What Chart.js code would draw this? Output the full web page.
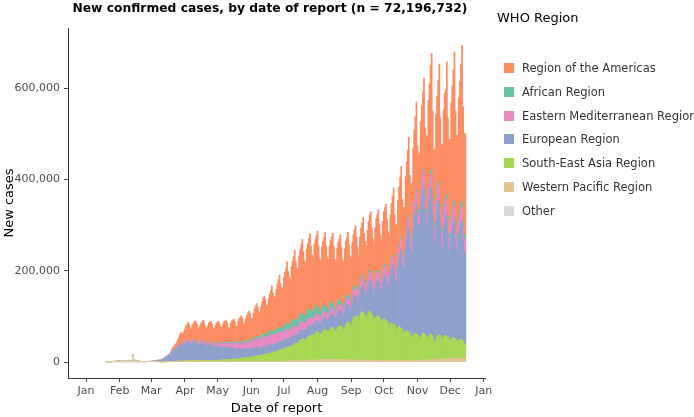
<!DOCTYPE html>
<html>
<head>
<meta charset="utf-8">
<script src="https://cdn.jsdelivr.net/npm/chart.js@4.4.1/dist/chart.umd.min.js"></script>
<style>
  html, body { margin: 0; padding: 0; background: #fff; overflow: hidden; }
  #wrap { position: relative; width: 694px; height: 417px; font-family: "DejaVu Sans", sans-serif; }
  #chartBox { position: absolute; left: 0; top: 0; width: 694px; height: 417px; }
  #title { position: absolute; left: 61px; width: 418px; top: 0px; line-height: 16px; text-align: center;
           font-weight: bold; font-size: 12.3px; color: #000; white-space: nowrap; }
  #legendTitle { position: absolute; left: 497px; top: 9px; line-height: 18px; font-size: 13px; color: #000; white-space: nowrap; }
  .item { position: absolute; left: 504px; height: 24px; display: flex; align-items: center; white-space: nowrap; }
  .item .sw { width: 10px; height: 10px; margin-right: 8px; }
  .item span { font-size: 11.5px; color: #333; }
</style>
</head>
<body>
<div id="wrap">
  <div id="chartBox"><canvas id="myChart"></canvas></div>
  <div id="title"></div>
  <div id="legendTitle">WHO Region</div>
  <div id="legend"></div>
</div>
<script>
// daily new cases in thousands, one row per week (Mon..Sun), first day 2020-01-20
const firstDay = "2020-01-20";

const westernPacific = [
  0.1, 0.15, 0.13, 0.26, 0.44, 0.69, 0.77,
  1.77, 1.46, 1.74, 1.98, 2.1, 2.59, 2.83,
  3.24, 3.89, 3.7, 3.15, 3.4, 2.66, 3.0,
  2.48, 2.03, 1.82, 15.15, 5.09, 2.64, 2.01,
  2.05, 1.89, 1.75, 0.83, 0.9, 0.85, 0.66,
  0.5, 0.75, 0.6, 0.75, 0.9, 1.1, 0.9,
  1.1, 0.8, 0.7, 0.6, 0.7, 0.6, 0.5,
  0.4, 0.4, 0.3, 0.3, 0.4, 0.4, 0.5,
  0.5, 0.6, 0.6, 0.8, 1.0, 1.2, 1.3,
  1.4, 1.5, 1.6, 1.8, 1.9, 2.0, 1.9,
  1.7, 1.8, 2.0, 2.1, 2.2, 2.3, 2.2,
  2.0, 2.1, 2.3, 2.4, 2.5, 2.3, 2.1,
  1.9, 1.8, 2.0, 2.1, 2.2, 1.9, 1.7,
  1.5, 1.4, 1.3, 1.4, 1.3, 1.2, 1.1,
  0.9, 0.9, 1.0, 0.9, 0.9, 0.8, 0.8,
  0.7, 0.7, 0.8, 0.7, 0.8, 0.7, 0.6,
  0.6, 0.6, 0.7, 0.6, 0.7, 0.7, 0.6,
  0.6, 0.6, 0.7, 0.7, 0.8, 0.8, 0.7,
  0.7, 0.7, 0.8, 0.8, 0.9, 1.0, 0.9,
  0.9, 0.9, 1.0, 1.0, 1.1, 1.1, 1.0,
  0.9, 1.0, 1.1, 1.1, 1.2, 1.2, 1.1,
  1.1, 1.1, 1.2, 1.3, 1.3, 1.4, 1.3,
  1.2, 1.3, 1.4, 1.5, 1.6, 1.7, 1.6,
  1.6, 1.7, 1.8, 1.9, 2.0, 2.2, 2.1,
  2.0, 2.1, 2.3, 2.5, 2.6, 2.7, 2.6,
  2.5, 2.6, 2.8, 3.0, 3.2, 3.4, 3.3,
  3.1, 3.3, 3.5, 3.8, 4.0, 4.1, 3.9,
  3.8, 4.0, 4.3, 4.6, 4.8, 5.0, 4.9,
  5.1, 5.3, 5.5, 5.8, 6.0, 6.2, 5.9,
  5.6, 5.7, 6.0, 6.1, 6.3, 6.5, 6.1,
  5.8, 5.5, 5.6, 5.7, 5.6, 5.8, 5.4,
  5.0, 4.8, 4.9, 5.0, 4.9, 5.1, 4.7,
  4.3, 4.2, 4.4, 4.5, 4.6, 4.5, 4.2,
  4.0, 3.9, 4.0, 4.2, 4.3, 4.4, 4.1,
  3.9, 3.8, 3.9, 4.0, 4.1, 4.0, 3.7,
  3.4, 3.3, 3.5, 3.6, 3.7, 3.6, 3.4,
  3.2, 3.1, 3.2, 3.3, 3.4, 3.3, 3.1,
  2.9, 2.8, 3.0, 3.1, 3.2, 3.1, 2.9,
  2.8, 2.7, 2.9, 3.0, 3.1, 3.1, 2.9,
  2.7, 2.7, 2.8, 3.0, 3.1, 3.2, 3.0,
  2.9, 2.9, 3.1, 3.3, 3.5, 3.6, 3.4,
  3.3, 3.3, 3.6, 3.9, 4.1, 4.4, 4.2,
  4.0, 4.2, 4.6, 5.0, 5.4, 5.6, 5.4,
  5.2, 5.3, 5.8, 6.2, 6.5, 6.8, 6.6,
  6.2, 6.1, 6.4, 6.8, 7.0, 7.2, 7.0,
  6.5, 6.4, 6.9, 7.3, 7.6, 7.8, 7.5,
  7.1, 7.0, 7.5, 7.9, 8.3, 8.5, 8.2,
  7.8, 7.6
];

const southEastAsia = [
  0, 0, 0, 0, 0, 0, 0,
  0, 0, 0, 0, 0, 0, 0,
  0, 0, 0, 0, 0, 0, 0,
  0, 0, 0, 0, 0, 0, 0,
  0, 0, 0, 0, 0, 0, 0,
  0, 0, 0, 0, 0, 0, 0,
  0, 0, 0, 0, 0, 0, 0,
  0, 0, 0, 0, 0, 0.1, 0.1,
  0.1, 0.1, 0.1, 0.1, 0.2, 0.2, 0.3,
  0.3, 0.3, 0.4, 0.4, 0.5, 0.6, 0.7,
  0.8, 1.0, 1.1, 0.9, 1.0, 1.1, 1.2,
  1.2, 1.2, 1.3, 1.4, 1.5, 1.6, 1.6,
  1.5, 1.6, 1.7, 1.8, 1.9, 2.0, 2.1,
  2.0, 2.1, 2.2, 2.3, 2.4, 2.5, 2.6,
  2.4, 2.6, 2.8, 2.9, 3.0, 3.3, 3.7,
  3.9, 4.0, 4.2, 4.4, 4.5, 4.6, 4.8,
  5.0, 5.1, 5.2, 5.3, 5.6, 5.8, 6.1,
  6.2, 6.4, 6.6, 7.2, 7.5, 7.7, 7.9,
  8.0, 8.1, 8.3, 8.7, 9.2, 9.5, 10.0,
  10.2, 10.5, 11.0, 11.5, 12.0, 12.4, 12.8,
  13.2, 13.5, 13.9, 14.3, 14.8, 15.4, 15.9,
  16.2, 16.5, 17.5, 18.0, 18.5, 19.3, 20.2,
  20.5, 20.8, 21.5, 22.6, 23.5, 24.2, 25.4,
  25.7, 25.6, 26.8, 28.1, 29.0, 30.8, 31.9,
  31.5, 30.8, 32.5, 34.4, 35.6, 37.8, 38.2,
  38.1, 38.5, 41.6, 44.5, 46.3, 47.1, 47.5,
  46.2, 45.3, 47.4, 50.5, 52.8, 53.1, 54.3,
  55.7, 53.9, 55.5, 58.8, 60.2, 61.9, 60.5,
  56.1, 55.2, 58.5, 62.2, 64.0, 65.1, 64.3,
  62.5, 59.8, 63.3, 68.2, 69.5, 68.8, 67.1,
  63.3, 61.2, 66.4, 71.5, 72.1, 73.2, 72.5,
  69.8, 66.2, 70.6, 78.3, 80.6, 81.9, 82.5,
  78.5, 76.2, 85.1, 91.3, 94.6, 94.2, 98.1,
  96.5, 83.1, 97.2, 103.5, 105.2, 106.1, 101.3,
  99.5, 91.6, 99.1, 105.3, 108.7, 104.2, 101.5,
  94.8, 84.6, 92.3, 97.5, 96.2, 94.6, 96.1,
  90.4, 78.8, 88.5, 92.2, 89.6, 88.8, 85.3,
  82.5, 70.6, 80.3, 83.2, 81.4, 79.1, 80.2,
  74.3, 64.1, 71.5, 75.8, 73.3, 70.6, 68.1,
  65.8, 57.2, 64.4, 65.2, 64.1, 62.5, 60.3,
  55.1, 48.6, 53.5, 59.1, 58.4, 57.2, 56.1,
  51.2, 47.8, 52.3, 58.2, 59.1, 57.7, 55.8,
  52.5, 42.3, 49.6, 54.3, 56.8, 54.4, 49.2,
  39.5, 36.2, 43.1, 50.4, 51.2, 52.4, 51.6,
  48.5, 42.8, 48.2, 51.5, 50.8, 49.6, 48.5,
  43.2, 38.5, 44.6, 46.1, 45.5, 44.8, 43.9,
  40.6, 35.2, 40.5, 41.2, 40.1, 39.5, 38.4,
  33.8, 31.2
];

const european = [
  0, 0, 0, 0, 0, 0, 0,
  0, 0, 0, 0, 0, 0, 0,
  0, 0, 0, 0, 0, 0, 0,
  0, 0, 0, 0, 0, 0, 0,
  0, 0, 0, 0, 0, 0, 0,
  0.05, 0.1, 0.1, 0.2, 0.3, 0.3, 0.6,
  0.6, 0.8, 0.9, 1.2, 1.8, 2.3, 2.8,
  3.0, 3.2, 4.0, 5.5, 6.8, 8.5, 9.8,
  11.0, 13.5, 14.2, 17.5, 20.3, 23.1, 22.5,
  24.6, 25.8, 28.5, 31.2, 34.1, 35.8, 34.2,
  33.1, 35.6, 37.2, 40.5, 41.3, 43.1, 39.5,
  35.2, 36.1, 38.5, 39.2, 41.5, 40.2, 37.8,
  33.5, 34.2, 36.1, 37.5, 38.2, 37.1, 35.2,
  32.1, 31.5, 33.2, 34.6, 34.1, 33.5, 31.6,
  29.1, 28.6, 30.2, 31.5, 32.1, 30.8, 28.5,
  27.1, 26.5, 28.2, 29.1, 28.5, 27.6, 26.2,
  25.8, 24.1, 25.6, 26.5, 25.2, 24.1, 23.2,
  22.1, 20.5, 22.1, 21.8, 21.2, 20.5, 19.6,
  18.5, 17.8, 19.2, 19.8, 19.5, 18.6, 18.1,
  17.2, 16.8, 18.1, 18.6, 18.9, 18.2, 17.5,
  16.5, 16.1, 17.2, 17.8, 18.1, 17.5, 16.8,
  16.2, 15.8, 17.5, 18.1, 18.3, 17.6, 16.5,
  16.4, 16.1, 17.6, 18.5, 18.8, 18.2, 17.5,
  17.2, 17.1, 18.4, 19.2, 19.6, 19.1, 18.3,
  17.8, 17.5, 18.6, 19.5, 20.1, 19.8, 18.9,
  18.5, 18.2, 19.6, 20.8, 21.4, 21.1, 19.8,
  19.6, 19.1, 21.2, 22.5, 23.1, 22.8, 21.4,
  21.2, 20.8, 22.6, 24.1, 25.2, 24.8, 23.1,
  22.5, 22.1, 24.5, 26.2, 27.1, 26.8, 25.2,
  24.8, 24.2, 27.1, 29.3, 30.5, 30.1, 28.2,
  27.6, 27.1, 30.5, 33.2, 34.8, 34.1, 31.5,
  30.8, 30.5, 34.2, 37.1, 38.5, 38.2, 35.1,
  34.1, 33.6, 38.2, 42.5, 44.8, 45.1, 41.2,
  41.1, 40.5, 46.2, 51.8, 55.5, 56.8, 50.6,
  49.2, 48.8, 55.5, 61.6, 65.2, 66.8, 60.1,
  57.1, 57.8, 65.5, 72.8, 76.2, 78.5, 70.3,
  67.2, 69.8, 80.5, 89.6, 95.2, 97.1, 88.5,
  84.6, 88.2, 104.1, 114.5, 121.3, 128.6, 108.2,
  101.5, 108.2, 135.6, 148.4, 160.5, 172.2, 145.6,
  135.5, 146.2, 182.5, 200.3, 214.5, 228.1, 192.6,
  180.3, 192.5, 235.2, 255.1, 270.5, 285.2, 241.4,
  240.5, 250.2, 286.1, 299.0, 315.3, 325.0, 273.0,
  245.2, 251.6, 288.4, 300.2, 318.5, 322.1, 270.4,
  218.3, 227.2, 259.6, 271.4, 286.2, 295.0, 247.8,
  198.4, 206.4, 235.9, 246.7, 260.1, 268.1, 225.2,
  192.5, 200.3, 228.9, 239.3, 252.3, 260.1, 218.5,
  193.9, 201.7, 230.6, 241.0, 254.1, 262.0, 220.1,
  195.5, 203.5
];

const easternMediterranean = [
  0, 0, 0, 0, 0, 0, 0,
  0, 0, 0, 0, 0, 0, 0,
  0, 0, 0, 0, 0, 0, 0,
  0, 0, 0, 0, 0, 0, 0,
  0, 0, 0, 0, 0, 0, 0,
  0.03, 0.05, 0.1, 0.1, 0.1, 0.2, 0.3,
  0.4, 0.5, 0.6, 0.6, 1.2, 1.1, 0.8,
  0.8, 0.9, 0.9, 1.1, 1.2, 1.4, 1.6,
  1.5, 1.4, 1.6, 1.4, 1.6, 1.4, 1.2,
  1.8, 1.9, 2.3, 2.6, 2.9, 3.4, 3.6,
  3.8, 3.6, 3.5, 3.8, 4.0, 4.1, 3.9,
  3.5, 3.6, 3.7, 3.8, 3.9, 3.5, 3.6,
  3.6, 3.8, 4.0, 4.4, 4.6, 4.5, 4.2,
  4.3, 4.5, 4.8, 5.2, 5.6, 5.4, 5.2,
  5.1, 5.3, 5.6, 6.0, 6.4, 6.8, 6.5,
  6.8, 7.1, 7.5, 7.9, 8.1, 8.5, 8.2,
  8.5, 8.8, 9.2, 9.4, 9.8, 10.2, 10.5,
  10.8, 11.2, 11.6, 12.1, 12.5, 12.8, 12.3,
  12.6, 12.2, 12.9, 13.5, 14.2, 15.1, 15.5,
  15.6, 15.8, 16.5, 17.1, 17.6, 18.4, 18.6,
  18.5, 18.2, 19.1, 20.2, 20.8, 21.4, 21.1,
  20.6, 20.4, 21.2, 21.8, 22.1, 22.4, 21.6,
  21.3, 20.8, 21.4, 21.6, 21.5, 21.2, 20.5,
  20.1, 19.5, 20.2, 20.5, 20.1, 19.8, 19.1,
  18.5, 18.1, 18.7, 19.2, 18.9, 18.6, 17.9,
  17.6, 17.3, 17.8, 18.2, 18.1, 17.6, 16.9,
  16.5, 16.1, 16.8, 17.1, 16.9, 16.5, 15.8,
  15.4, 14.9, 15.3, 15.6, 14.8, 14.2, 13.5,
  13.1, 12.8, 13.3, 13.6, 13.5, 13.2, 12.8,
  12.5, 12.6, 13.1, 13.5, 13.4, 13.1, 12.6,
  12.4, 12.5, 13.2, 13.8, 13.9, 13.5, 13.1,
  13.2, 13.4, 14.1, 14.8, 14.9, 14.6, 14.2,
  14.3, 14.6, 15.3, 16.1, 16.2, 15.9, 15.5,
  15.4, 15.8, 16.6, 17.3, 17.4, 17.1, 16.5,
  16.6, 17.1, 18.2, 18.8, 19.1, 18.5, 17.9,
  17.6, 17.8, 18.6, 19.2, 19.5, 18.9, 18.2,
  18.1, 18.3, 19.1, 19.8, 20.1, 19.6, 18.9,
  18.6, 19.1, 20.1, 20.8, 21.2, 20.7, 19.8,
  19.5, 20.1, 21.2, 22.1, 22.6, 22.2, 21.1,
  20.8, 21.6, 22.8, 23.8, 24.5, 24.1, 22.9,
  22.6, 23.5, 25.1, 26.2, 26.9, 26.4, 25.2,
  24.8, 25.9, 27.6, 28.8, 29.5, 29.1, 27.8,
  27.2, 28.4, 30.2, 31.5, 32.1, 31.6, 30.1,
  29.5, 30.6, 32.4, 33.5, 34.2, 33.6, 31.9,
  30.8, 31.5, 33.2, 34.1, 34.5, 33.8, 32.1,
  29.6, 30.1, 31.5, 32.2, 32.4, 31.6, 30.2,
  28.1, 28.6, 29.8, 30.4, 30.6, 29.8, 28.5,
  26.9, 27.2
];

const african = [
  0, 0, 0, 0, 0, 0, 0,
  0, 0, 0, 0, 0, 0, 0,
  0, 0, 0, 0, 0, 0, 0,
  0, 0, 0, 0, 0, 0, 0,
  0, 0, 0, 0, 0, 0, 0,
  0, 0, 0, 0, 0, 0, 0,
  0, 0, 0, 0, 0, 0, 0,
  0, 0, 0, 0, 0, 0.02, 0.03,
  0.05, 0.05, 0.08, 0.1, 0.12, 0.15, 0.2,
  0.2, 0.25, 0.3, 0.35, 0.4, 0.4, 0.4,
  0.4, 0.4, 0.45, 0.5, 0.5, 0.55, 0.6,
  0.5, 0.55, 0.6, 0.65, 0.7, 0.7, 0.65,
  0.6, 0.7, 0.8, 0.85, 0.9, 0.95, 0.9,
  0.9, 1.0, 1.1, 1.2, 1.3, 1.3, 1.2,
  1.2, 1.4, 1.5, 1.6, 1.7, 1.8, 1.7,
  1.7, 1.9, 2.0, 2.1, 2.2, 2.3, 2.1,
  2.0, 2.2, 2.4, 2.5, 2.6, 2.7, 2.5,
  2.5, 2.7, 2.9, 3.0, 3.2, 3.3, 3.1,
  3.0, 3.2, 3.5, 3.7, 3.9, 4.1, 3.8,
  3.7, 4.0, 4.3, 4.6, 4.9, 5.1, 4.8,
  4.6, 5.0, 5.4, 5.8, 6.1, 6.4, 6.0,
  5.8, 6.3, 6.9, 7.4, 7.8, 8.1, 7.6,
  7.2, 7.8, 8.6, 9.3, 9.8, 10.2, 9.6,
  9.1, 9.9, 10.8, 11.6, 12.3, 12.8, 12.1,
  11.5, 12.4, 13.6, 14.5, 15.2, 15.6, 14.8,
  13.9, 14.8, 16.2, 17.1, 17.6, 17.8, 16.5,
  15.6, 16.2, 17.5, 18.3, 18.6, 18.2, 16.9,
  15.8, 16.1, 16.9, 17.2, 17.1, 16.5, 15.2,
  14.1, 14.2, 14.6, 14.8, 14.5, 13.8, 12.6,
  11.5, 11.4, 11.8, 11.9, 11.5, 10.9, 9.8,
  9.1, 8.9, 9.2, 9.3, 9.1, 8.6, 7.9,
  7.4, 7.2, 7.6, 7.8, 7.6, 7.2, 6.6,
  6.2, 6.1, 6.4, 6.6, 6.5, 6.1, 5.6,
  5.3, 5.2, 5.5, 5.7, 5.6, 5.3, 4.9,
  4.7, 4.6, 4.9, 5.1, 5.0, 4.8, 4.4,
  4.3, 4.2, 4.5, 4.7, 4.6, 4.4, 4.1,
  4.0, 4.0, 4.3, 4.5, 4.4, 4.2, 3.9,
  3.8, 3.9, 4.2, 4.4, 4.3, 4.1, 3.8,
  3.7, 3.8, 4.2, 4.5, 4.4, 4.2, 3.9,
  3.8, 4.0, 4.4, 4.7, 4.6, 4.4, 4.1,
  4.0, 4.2, 4.6, 4.9, 4.9, 4.7, 4.3,
  4.3, 4.5, 5.0, 5.4, 5.4, 5.2, 4.8,
  4.7, 5.0, 5.6, 6.0, 6.1, 5.9, 5.4,
  5.3, 5.7, 6.4, 6.9, 7.0, 6.8, 6.2,
  6.1, 6.6, 7.4, 7.9, 8.1, 7.8, 7.1,
  7.0, 7.6, 8.5, 9.1, 9.4, 9.1, 8.3,
  8.2, 8.9, 10.1, 10.8, 11.2, 10.9, 9.8,
  9.7, 10.5
];

const americas = [
  0, 0, 0, 0, 0, 0, 0,
  0, 0, 0, 0, 0, 0, 0,
  0, 0, 0, 0, 0, 0, 0,
  0, 0, 0, 0, 0, 0, 0,
  0, 0, 0, 0, 0, 0, 0,
  0, 0, 0, 0, 0, 0, 0,
  0, 0, 0, 0, 0.1, 0.1, 0.1,
  0.1, 0.1, 0.2, 0.3, 0.4, 0.5, 0.7,
  0.9, 1.2, 1.8, 2.6, 4.5, 6.2, 8.1,
  10.5, 11.2, 12.8, 15.6, 18.9, 21.5, 22.8,
  21.2, 23.5, 27.6, 31.2, 33.5, 35.8, 34.1,
  30.5, 32.1, 35.2, 38.1, 39.6, 40.2, 37.5,
  33.1, 32.5, 35.8, 39.2, 41.5, 44.8, 40.1,
  34.5, 33.8, 37.2, 40.6, 42.5, 45.1, 41.2,
  35.6, 34.2, 38.1, 41.5, 43.2, 45.6, 42.1,
  36.5, 35.8, 39.6, 43.2, 45.6, 47.1, 43.5,
  34.2, 33.5, 41.2, 45.5, 48.1, 50.2, 46.1,
  37.1, 36.2, 45.6, 50.2, 53.6, 56.1, 51.5,
  42.5, 41.1, 49.6, 55.2, 59.8, 63.5, 58.2,
  48.2, 47.1, 56.5, 63.2, 68.5, 72.6, 66.1,
  56.5, 55.1, 64.2, 72.6, 78.2, 82.5, 76.1,
  65.2, 63.5, 75.1, 82.5, 89.1, 98.2, 84.5,
  76.5, 74.2, 88.5, 97.2, 104.6, 115.2, 97.1,
  90.5, 88.1, 106.2, 115.5, 123.1, 134.6, 114.2,
  104.2, 101.6, 122.5, 130.6, 138.5, 150.2, 128.1,
  115.1, 112.5, 134.2, 142.6, 150.2, 161.5, 137.8,
  120.5, 118.2, 140.5, 147.3, 155.5, 166.8, 141.2,
  122.1, 119.5, 142.6, 148.2, 154.5, 164.2, 137.1,
  115.6, 112.2, 135.5, 141.3, 148.2, 158.6, 133.2,
  113.5, 110.2, 132.6, 137.5, 143.1, 152.6, 128.5,
  106.2, 103.5, 124.6, 129.2, 134.5, 143.6, 120.1,
  98.5, 96.2, 116.5, 122.5, 127.2, 137.1, 114.6,
  95.6, 93.2, 112.5, 118.1, 123.5, 132.6, 109.1,
  88.5, 85.6, 104.2, 110.5, 117.1, 127.5, 104.2,
  90.1, 88.2, 106.5, 113.2, 120.6, 130.5, 106.6,
  92.5, 90.1, 109.2, 116.5, 123.1, 133.2, 109.5,
  95.1, 92.6, 112.5, 120.6, 125.2, 132.5, 113.1,
  93.2, 91.7, 110.7, 120.8, 131.0, 145.6, 107.7,
  99.6, 98.0, 118.3, 129.1, 140.0, 155.6, 115.1,
  108.9, 107.2, 129.4, 141.3, 153.2, 170.2, 126.0,
  122.9, 121.0, 146.0, 159.4, 172.9, 192.1, 142.2,
  128.0, 126.0, 152.0, 166.0, 180.0, 200.0, 148.0,
  163.8, 161.3, 194.6, 212.5, 230.4, 256.0, 189.4,
  165.1, 162.5, 196.1, 214.1, 232.2, 258.0, 190.9,
  185.9, 183.0, 220.8, 241.1, 235.5, 290.5, 215.0,
  208.4, 205.1, 247.5, 270.2, 293.0, 325.6, 240.9,
  218.9, 215.5, 260.0, 283.9, 307.9, 342.1, 253.2,
  224.5, 221.0
];

// international conveyances
const other = [
  0, 0, 0, 0, 0, 0, 0,
  0, 0, 0, 0, 0, 0, 0,
  0, 0, 0.01, 0.01, 0.04, 0, 0.01,
  0.01, 0.07, 0.04, 0.04, 0, 0.07, 0.07,
  0.1, 0.09, 0.08, 0.01, 0, 0, 0
];

const regions = ["Region of the Americas", "African Region", "Eastern Mediterranean Region",
                 "European Region", "South-East Asia Region", "Western Pacific Region", "Other"];
const regionColors = ["#FC8D62", "#66C2A5", "#E78AC3", "#8DA0CB", "#A6D854", "#E5C494", "#D9D9D9"];
const regionValues = [americas, african, easternMediterranean, european, southEastAsia, westernPacific, other];

const monthStarts = ["2020-01-01", "2020-02-01", "2020-03-01", "2020-04-01", "2020-05-01", "2020-06-01", "2020-07-01",
                     "2020-08-01", "2020-09-01", "2020-10-01", "2020-11-01", "2020-12-01", "2021-01-01"];
const monthLabels = ["Jan", "Feb", "Mar", "Apr", "May", "Jun", "Jul", "Aug", "Sep", "Oct", "Nov", "Dec", "Jan"];
const yTicks = [0, 200, 400, 600];
const yTickLabels = ["0", "200,000", "400,000", "600,000"];
const totalCases = "72,196,732";

const dayOf = s => (Date.parse(s) - Date.parse("2020-01-01")) / 86400000;
const start = dayOf(firstDay);
const monthDays = monthStarts.map(dayOf);

document.getElementById("title").textContent =
  "New confirmed cases, by date of report (n = " + totalCases + ")";

// legend, same order as the reference
const legend = document.getElementById("legend");
regions.forEach((name, i) => {
  const row = document.createElement("div");
  row.className = "item";
  row.style.top = (56 + i * 23.8) + "px";
  row.innerHTML = '<div class="sw" style="background:' + regionColors[i] + '"></div><span>' + name + '</span>';
  legend.appendChild(row);
});

// stack from the bottom: Other, Western Pacific, ... Americas on top
const datasets = [];
for (let i = regions.length - 1; i >= 0; i--) {
  datasets.push({
    label: regions[i],
    data: regionValues[i].map((v, k) => ({ x: start + k, y: v })),
    backgroundColor: regionColors[i],
    borderWidth: 0,
    barPercentage: 1,
    categoryPercentage: 1
  });
}

Chart.defaults.font.family = "DejaVu Sans";

const ctx = document.getElementById("myChart");
new Chart(ctx, {
  type: "bar",
  data: { datasets: datasets },
  options: {
    animation: false,
    responsive: true,
    maintainAspectRatio: false,
    layout: { padding: { top: 28, right: 209, left: 0, bottom: 0 } },
    plugins: { legend: { display: false }, tooltip: { enabled: false } },
    scales: {
      x: {
        type: "linear",
        stacked: true,
        offset: false,
        min: -16.6,
        max: 367.1,
        afterBuildTicks: s => { s.ticks = monthDays.map(v => ({ value: v })); },
        afterFit: s => { s.height = 39; },
        ticks: {
          callback: (v, i) => monthLabels[i],
          autoSkip: false, maxRotation: 0,
          font: { size: 11 }, color: "#4d4d4d", padding: 3
        },
        grid: { display: true, drawOnChartArea: false, drawTicks: true, tickLength: 4, color: "#444", offset: false },
        border: { display: true, color: "#333", width: 1 },
        title: { display: true, text: "Date of report", font: { size: 13 }, color: "#000", padding: { top: 0, bottom: 1 } }
      },
      y: {
        stacked: true,
        min: -35.0,
        max: 731.4,
        afterBuildTicks: s => { s.ticks = yTicks.map(v => ({ value: v })); },
        afterFit: s => { s.width = 68; },
        ticks: {
          callback: (v, i) => yTickLabels[i],
          font: { size: 11 }, color: "#4d4d4d", padding: 4
        },
        grid: { display: true, drawOnChartArea: false, drawTicks: true, tickLength: 4, color: "#444" },
        border: { display: true, color: "#333", width: 1 },
        title: { display: true, text: "New cases", font: { size: 13 }, color: "#000", padding: { top: 2, bottom: 0 } }
      }
    }
  }
});
</script>
</body>
</html>
